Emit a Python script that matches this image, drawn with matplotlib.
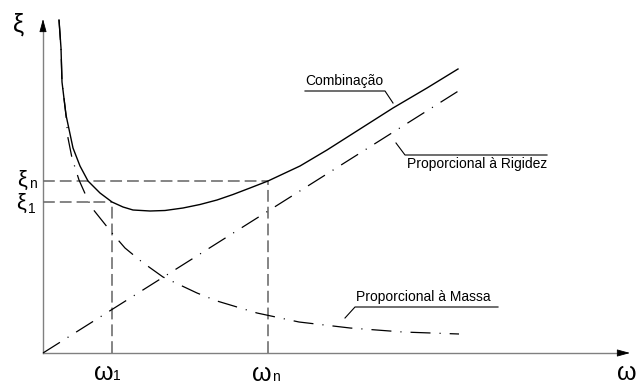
import numpy as np
import matplotlib
matplotlib.use("Agg")
import matplotlib.pyplot as plt

plt.rcParams["font.family"] = ["Liberation Sans", "DejaVu Sans"]
plt.rcParams["lines.scale_dashes"] = False

# curve points (omega, xi) in drawing units
mass_w = [16, 18, 19, 23, 25, 29, 36, 44, 49, 57, 69, 82, 99, 120, 154, 174, 214, 256, 307, 360, 416]
mass_xi = [333, 305, 271, 238, 215, 195, 173, 155, 145, 135, 120, 105, 91, 76, 60, 52, 40, 31, 25, 21, 19]

comb_w = [16, 18, 19, 23, 30, 37, 45, 57, 69, 80, 90, 107, 122, 140, 157, 174, 190, 207, 225, 257, 284, 317, 350, 384, 415]
comb_xi = [333, 305, 271, 238, 205, 187, 172, 160, 151, 146, 143, 142, 142.5, 145, 148.5, 153, 158.5, 165, 172, 187, 203, 224, 245, 265, 284]

stiff_w = [0, 417]
stiff_xi = [0, 263]

w1, wn = 69, 225
xi1, xin = 151, 172
w_end, xi_end = 587, 334

fig = plt.figure(figsize=(6.38, 3.85), dpi=100)
ax = fig.add_axes([0, 0, 1, 1])
ax.set_xlim(-43, 595)
ax.set_ylim(-32, 353)
ax.axis("off")

axis_col = "#808080"
ax.plot([0, w_end - 8], [0, 0], color=axis_col, lw=1.0)
ax.plot([0, 0], [0, xi_end - 8], color=axis_col, lw=1.0)
head = dict(arrowstyle="-|>,head_length=0.8,head_width=0.22", color="black",
            lw=0.6, shrinkA=0, shrinkB=0, mutation_scale=10)
ax.annotate("", xy=(w_end, 0), xytext=(w_end - 9, 0), arrowprops=head)
ax.annotate("", xy=(0, xi_end), xytext=(0, xi_end - 9), arrowprops=head)

dash_col = "#707070"
dash = (0, (8.5, 3.6))
ax.plot([0, w1], [xi1, xi1], color=dash_col, lw=1.2, linestyle=dash)
ax.plot([0, wn], [xin, xin], color=dash_col, lw=1.2, linestyle=dash)
ax.plot([w1, w1], [0, xi1], color=dash_col, lw=1.2, linestyle=dash)
ax.plot([wn, wn], [0, xin], color=dash_col, lw=1.2, linestyle=dash)

dashdot = (0, (14.4, 6.5, 0.8, 6.5))
ax.plot(stiff_w, stiff_xi, color="black", lw=0.9, linestyle=dashdot)
ax.plot(mass_w, mass_xi, color="black", lw=0.9, linestyle=dashdot)
ax.plot(comb_w, comb_xi, color="black", lw=1.0, solid_joinstyle="round")

# axis labels
big = 18
ax.text(-24, 328, "ξ", fontsize=big, ha="center", va="center")
ax.text(-21, 173, "ξ", fontsize=16, ha="center", va="center")
ax.text(-10, 169, "n", fontsize=10, ha="center", va="center")
ax.text(-22, 150, "ξ", fontsize=16, ha="center", va="center")
ax.text(-11, 144, "1", fontsize=10, ha="center", va="center")

ax.text(w1 - 8, -20, "ω", fontsize=big, ha="center", va="center")
ax.text(w1 + 5, -23, "1", fontsize=10, ha="center", va="center")
ax.text(wn - 6, -21, "ω", fontsize=big, ha="center", va="center")
ax.text(wn + 8, -24, "n", fontsize=10, ha="center", va="center")
ax.text(584, -20, "ω", fontsize=big, ha="center", va="center")

# curve labels with leader lines
lab = 10
ax.text(262, 272, "Combinação", fontsize=lab, ha="left", va="center")
ax.plot([262, 342, 350], [262, 262, 250], color="black", lw=0.8)

ax.text(364, 189, "Proporcional à Rigidez", fontsize=lab, ha="left", va="center")
ax.plot([353, 362, 504], [210, 198, 198], color="black", lw=0.8)

ax.text(313, 56, "Proporcional à Massa", fontsize=lab, ha="left", va="center")
ax.plot([302, 312, 455], [35, 46, 46], color="black", lw=0.8)

fig.savefig("out.png", dpi=100)
